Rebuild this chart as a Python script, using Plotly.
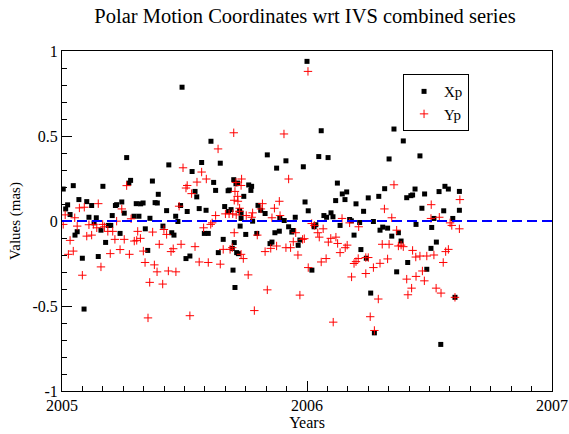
import plotly.graph_objects as go

# Xp (black squares): decimal year, value (mas)
xp_year = [2005.005, 2005.015, 2005.023, 2005.033, 2005.046, 2005.053, 2005.062, 2005.069, 2005.083, 2005.090,
           2005.101, 2005.110, 2005.121, 2005.131, 2005.140, 2005.148, 2005.159, 2005.167, 2005.178, 2005.189,
           2005.199, 2005.205, 2005.218, 2005.223, 2005.237, 2005.244, 2005.254, 2005.264, 2005.273, 2005.280,
           2005.294, 2005.303, 2005.314, 2005.321, 2005.331, 2005.340, 2005.350, 2005.359, 2005.369, 2005.380,
           2005.389, 2005.393, 2005.412, 2005.427, 2005.436, 2005.448, 2005.457, 2005.464, 2005.473, 2005.484,
           2005.490, 2005.506, 2005.511, 2005.522, 2005.531, 2005.543, 2005.550, 2005.560, 2005.570, 2005.581,
           2005.588, 2005.597, 2005.608, 2005.619, 2005.627, 2005.638, 2005.646, 2005.658, 2005.664, 2005.678,
           2005.683, 2005.680, 2005.690, 2005.695, 2005.698, 2005.701, 2005.703, 2005.706, 2005.710, 2005.717,
           2005.713, 2005.720, 2005.725, 2005.727, 2005.731, 2005.731, 2005.742, 2005.750, 2005.762, 2005.771,
           2005.774, 2005.778, 2005.795, 2005.800, 2005.811, 2005.829, 2005.838, 2005.849, 2005.857, 2005.869,
           2005.876, 2005.887, 2005.889, 2005.907, 2005.914, 2005.925, 2005.938, 2005.944, 2005.952, 2005.964,
           2005.971, 2005.985, 2005.992, 2006.000, 2006.005, 2006.020, 2006.029, 2006.036, 2006.048, 2006.058,
           2006.069, 2006.080, 2006.086, 2006.098, 2006.106, 2006.117, 2006.124, 2006.135, 2006.144, 2006.155,
           2006.162, 2006.174, 2006.181, 2006.192, 2006.200, 2006.215, 2006.220, 2006.231, 2006.242, 2006.250,
           2006.260, 2006.271, 2006.275, 2006.293, 2006.298, 2006.309, 2006.317, 2006.329, 2006.335, 2006.346,
           2006.355, 2006.366, 2006.373, 2006.384, 2006.393, 2006.407, 2006.411, 2006.424, 2006.431, 2006.441,
           2006.445, 2006.461, 2006.469, 2006.480, 2006.489, 2006.506, 2006.509, 2006.518, 2006.528, 2006.539,
           2006.546, 2006.558, 2006.563, 2006.577, 2006.595, 2006.604, 2006.622, 2006.622]
xp_value = [0.188, 0.071, 0.095, 0.038, 0.208, -0.083, -0.063, 0.126, -0.219, -0.518,
            0.114, 0.022, 0.091, -0.011, 0.019, -0.209, -0.054, 0.204, -0.126, -0.026,
            -0.026, 0.032, 0.091, 0.096, -0.073, 0.112, 0.046, 0.373, 0.223, 0.239,
            0.028, 0.102, 0.028, 0.101, 0.106, -0.046, -0.173, 0.016, 0.235, 0.108,
            0.106, 0.157, -0.030, 0.061, 0.330, -0.069, -0.083, 0.028, -0.003, 0.091,
            0.787, -0.221, 0.056, -0.206, 0.291, 0.174, 0.142, 0.073, 0.344, -0.073,
            0.063, -0.073, 0.469, 0.227, 0.180, -0.186, 0.340, -0.108, 0.085, 0.178,
            0.182, 0.056, 0.067, -0.161, -0.289, 0.243, -0.127, -0.391, 0.219, 0.223,
            -0.186, -0.192, 0.061, -0.030, 0.046, 0.015, 0.145, -0.079, 0.212, 0.180,
            0.204, -0.001, -0.073, 0.092, 0.063, 0.044, 0.389, -0.133, -0.124, -0.069,
            0.311, -0.060, 0.015, 0.003, 0.354, -0.034, -0.065, -0.056, 0.022, -0.143,
            -0.112, 0.319, 0.112, 0.939, 0.060, -0.289, -0.034, -0.022, 0.379, 0.531,
            0.032, 0.022, 0.373, 0.048, 0.025, 0.120, 0.223, -0.026, 0.159, 0.126,
            0.171, 0.009, 0.001, -0.083, 0.101, -0.009, -0.168, 0.057, -0.219, 0.136,
            -0.424, -0.003, -0.658, 0.145, -0.054, -0.036, 0.190, -0.042, 0.365, -0.089,
            0.541, -0.299, -0.069, -0.118, 0.471, 0.137, -0.244, 0.149, 0.153, 0.188,
            -0.020, 0.383, 0.075, 0.159, -0.284, -0.161, -0.038, 0.015, -0.124, 0.173,
            -0.726, 0.060, 0.204, 0.188, 0.015, -0.449, 0.174, 0.063]

# Yp (red crosses): decimal year, value (mas)
yp_year = [2005.005, 2005.013, 2005.026, 2005.033, 2005.046, 2005.052, 2005.062, 2005.071, 2005.083, 2005.091,
           2005.101, 2005.110, 2005.121, 2005.128, 2005.142, 2005.148, 2005.159, 2005.166, 2005.173, 2005.187,
           2005.197, 2005.207, 2005.216, 2005.223, 2005.237, 2005.244, 2005.254, 2005.264, 2005.275, 2005.282,
           2005.295, 2005.305, 2005.309, 2005.320, 2005.332, 2005.339, 2005.351, 2005.358, 2005.370, 2005.377,
           2005.388, 2005.397, 2005.411, 2005.416, 2005.427, 2005.434, 2005.445, 2005.454, 2005.465, 2005.478,
           2005.486, 2005.494, 2005.506, 2005.511, 2005.522, 2005.529, 2005.543, 2005.551, 2005.560, 2005.570,
           2005.578, 2005.589, 2005.597, 2005.607, 2005.613, 2005.627, 2005.637, 2005.646, 2005.658, 2005.667,
           2005.682, 2005.686, 2005.695, 2005.697, 2005.701, 2005.703, 2005.703, 2005.706, 2005.710, 2005.711,
           2005.717, 2005.718, 2005.725, 2005.724, 2005.731, 2005.731, 2005.733, 2005.740, 2005.752, 2005.760,
           2005.774, 2005.778, 2005.785, 2005.797, 2005.812, 2005.818, 2005.829, 2005.838, 2005.852, 2005.857,
           2005.867, 2005.876, 2005.887, 2005.890, 2005.906, 2005.914, 2005.925, 2005.933, 2005.944, 2005.954,
           2005.963, 2005.971, 2005.982, 2005.989, 2006.004, 2006.005, 2006.019, 2006.030, 2006.044, 2006.050,
           2006.058, 2006.066, 2006.078, 2006.087, 2006.097, 2006.107, 2006.118, 2006.125, 2006.135, 2006.143,
           2006.156, 2006.164, 2006.174, 2006.182, 2006.192, 2006.200, 2006.209, 2006.211, 2006.240, 2006.240,
           2006.250, 2006.258, 2006.271, 2006.275, 2006.291, 2006.298, 2006.307, 2006.316, 2006.329, 2006.335,
           2006.346, 2006.355, 2006.366, 2006.373, 2006.384, 2006.393, 2006.407, 2006.412, 2006.427, 2006.431,
           2006.444, 2006.445, 2006.461, 2006.471, 2006.479, 2006.489, 2006.506, 2006.507, 2006.518, 2006.527,
           2006.540, 2006.547, 2006.556, 2006.566, 2006.577, 2006.584, 2006.591, 2006.604, 2006.622, 2006.624]
yp_value = [-0.020, 0.036, -0.196, -0.114, -0.177, 0.019, -0.030, 0.077, -0.319, 0.081,
            -0.089, -0.022, -0.083, -0.020, -0.040, 0.102, -0.270, -0.020, -0.034, -0.061,
            -0.192, -0.061, -0.108, -0.001, -0.168, 0.071, -0.108, 0.208, -0.196, 0.013,
            -0.118, -0.114, -0.061, -0.102, -0.177, -0.244, -0.570, -0.361, -0.065, -0.258,
            -0.299, -0.137, -0.371, -0.050, -0.079, -0.294, -0.180, -0.163, -0.299, 0.087,
            -0.137, 0.313, 0.194, 0.209, -0.557, 0.161, -0.151, 0.229, -0.241, 0.288,
            -0.040, 0.247, -0.244, -0.020, -0.011, 0.032, 0.424, -0.254, -0.167, 0.042,
            0.042, -0.167, -0.157, 0.042, 0.519, 0.122, -0.069, 0.174, 0.227, 0.036,
            0.145, 0.116, 0.075, 0.057, -0.196, 0.209, 0.247, -0.221, 0.032, -0.317,
            0.022, 0.048, -0.527, -0.083, 0.071, 0.102, -0.180, -0.405, -0.161, 0.019,
            0.075, -0.147, 0.116, 0.032, 0.512, -0.157, 0.247, -0.157, -0.122, -0.069,
            -0.200, -0.436, -0.108, -0.104, 0.880, -0.274, -0.015, -0.026, -0.069, -0.095,
            -0.241, -0.046, -0.221, -0.124, -0.102, -0.595, -0.095, -0.132, -0.186, 0.015,
            -0.157, -0.142, -0.011, -0.329, -0.250, -0.239, -0.221, -0.034, -0.309, -0.215,
            -0.215, -0.563, -0.274, -0.644, -0.459, -0.249, -0.137, 0.071, -0.223, -0.137,
            0.019, 0.213, -0.054, -0.147, -0.142, -0.151, -0.342, -0.434, -0.395, -0.173,
            -0.212, -0.326, -0.206, -0.294, -0.352, -0.206, 0.015, 0.096, -0.200, -0.395,
            0.022, -0.424, -0.244, -0.180, -0.167, -0.011, -0.026, -0.449, -0.046, 0.126]

x_ticks = [2005, 2006, 2007]
x_tick_labels = ["2005", "2006", "2007"]
y_ticks = [-1, -0.5, 0, 0.5, 1]
y_tick_labels = ["-1", "-0.5", "0", "0.5", "1"]

FONT = "Liberation Serif"

fig = go.Figure()
fig.add_trace(go.Scatter(
    x=xp_year, y=xp_value, mode="markers", name="Xp",
    marker=dict(symbol="square", size=5, color="black", line=dict(width=0)),
))
fig.add_trace(go.Scatter(
    x=yp_year, y=yp_value, mode="markers", name="Yp",
    marker=dict(symbol="cross-thin", size=6, color="red", line=dict(width=1, color="red")),
))

fig.add_shape(type="line", xref="x", yref="y", x0=2005, x1=2007, y0=0, y1=0,
              line=dict(color="#0000ff", width=2, dash="10px,5px"), layer="above")

fig.update_layout(
    width=569, height=434,
    margin=dict(l=62, r=17, t=51, b=43, autoexpand=False),
    paper_bgcolor="white", plot_bgcolor="white",
    font=dict(family=FONT, size=16, color="black"),
    title=dict(text="Polar Motion Coordinates wrt IVS combined series",
               x=0.536, xanchor="center", y=1 - 16 / 434, yanchor="middle", yref="container",
               font=dict(family=FONT, size=20.5, color="black")),
    showlegend=True,
    legend=dict(x=0.696, y=0.932, xanchor="left", yanchor="top",
                bgcolor="white", bordercolor="black", borderwidth=1,
                font=dict(family=FONT, size=15, color="black"),
                itemsizing="trace", tracegroupgap=0, itemwidth=30),
)

fig.update_xaxes(
    range=[2005, 2007], tickvals=x_ticks, ticktext=x_tick_labels, automargin=False,
    showgrid=False, zeroline=False, showline=True, linecolor="black", linewidth=1, mirror=True,
    ticks="inside", ticklen=10, tickwidth=1, tickcolor="black",
    minor=dict(dtick=1 / 12, tick0=2005, ticks="inside", ticklen=5, tickwidth=1, tickcolor="black", showgrid=False),
    title=dict(text="Years", font=dict(family=FONT, size=16), standoff=0),
    tickfont=dict(family=FONT, size=16),
)
fig.update_yaxes(
    range=[-1, 1], tickvals=y_ticks, ticktext=y_tick_labels, automargin=False,
    showgrid=False, zeroline=False, showline=True, linecolor="black", linewidth=1, mirror=True,
    ticks="inside", ticklen=10, tickwidth=1, tickcolor="black",
    minor=dict(dtick=0.1, tick0=0, ticks="inside", ticklen=5, tickwidth=1, tickcolor="black", showgrid=False),
    title=dict(text="Values (mas)", font=dict(family=FONT, size=15), standoff=8),
    tickfont=dict(family=FONT, size=16),
)

fig.write_html("out.html", config={"displayModeBar": False},
               post_script="document.body.style.margin='0';")
